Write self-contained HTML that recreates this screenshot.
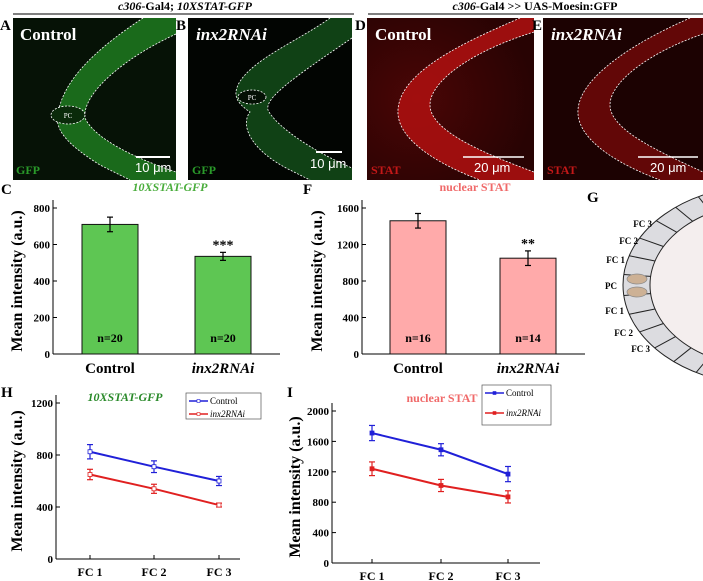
<!DOCTYPE html>
<html><head><meta charset="utf-8">
<style>
html,body{margin:0;padding:0;background:#fff;}
svg{display:block;font-family:"Liberation Serif",serif;}
</style></head>
<body>
<svg id="fig" width="703" height="581" viewBox="0 0 703 581" xmlns="http://www.w3.org/2000/svg">
<defs>
<radialGradient id="gD" cx="0.3" cy="0.5" r="0.7"><stop offset="0" stop-color="#4a0606"/><stop offset="1" stop-color="#280303"/></radialGradient>
<clipPath id="clipG"><rect x="560" y="185" width="143" height="200"/></clipPath>
</defs>
<!-- headers -->
<text x="185" y="10" font-size="12" font-weight="bold" text-anchor="middle"><tspan font-style="italic">c306</tspan>-Gal4; <tspan font-style="italic">10XSTAT-GFP</tspan></text>
<line x1="13" y1="14" x2="354" y2="14" stroke="#000" stroke-width="1"/>
<text x="535" y="10" font-size="12" font-weight="bold" text-anchor="middle"><tspan font-style="italic">c306</tspan>-Gal4 &gt;&gt; UAS-Moesin:GFP</text>
<line x1="368" y1="14" x2="703" y2="14" stroke="#000" stroke-width="1"/>

<!-- Panel A -->
<g>
<rect x="13" y="18" width="163" height="162" fill="#061206"/>
<path d="M143,18 C110,40 70,70 60,105 C52,125 60,140 100,165 L130,180 L176,180 L176,172 C140,160 95,140 85,118 C82,95 120,60 176,34 L176,18 Z" fill="#1f7a20" opacity="0.85"/>
<path d="M143,18 C110,40 70,70 60,105 C52,125 60,140 100,165 L130,180 M176,34 C120,60 82,95 85,118 C95,140 140,160 176,172" fill="none" stroke="#fff" stroke-width="0.8" stroke-dasharray="2,1.5"/>
<ellipse cx="68" cy="115" rx="17" ry="9" fill="#0a2a0a" stroke="#fff" stroke-width="0.8" stroke-dasharray="2,1.5"/>
<text x="68" y="118" fill="#fff" font-size="7" text-anchor="middle">PC</text>
<text x="20" y="40" fill="#fff" font-size="17" font-weight="bold">Control</text>
<text x="16" y="174" fill="#2a9a2a" font-size="12" font-weight="bold">GFP</text>
<line x1="136" y1="157" x2="170" y2="157" stroke="#fff" stroke-width="2"/>
<text x="135" y="172" fill="#fff" font-size="13" font-family="Liberation Sans">10 μm</text>
<text x="0" y="30" font-size="15" font-weight="bold">A</text>
</g>
<!-- Panel B -->
<g>
<rect x="188" y="18" width="164" height="162" fill="#020502"/>
<path d="M330,18 C300,40 250,60 238,85 C232,98 240,105 250,112 C240,125 250,150 290,170 L310,180 L352,180 L352,168 C310,150 275,125 268,110 C265,98 290,80 352,38 L352,18 Z" fill="#14501a" opacity="0.8"/>
<path d="M330,18 C300,40 250,60 238,85 C232,98 240,105 250,112 C240,125 250,150 290,170 L310,180 M352,38 C290,80 265,98 268,110 C275,125 310,150 352,168" fill="none" stroke="#fff" stroke-width="0.8" stroke-dasharray="2,1.5"/>
<ellipse cx="252" cy="97" rx="14" ry="7" fill="#041004" stroke="#fff" stroke-width="0.8" stroke-dasharray="2,1.5"/>
<text x="252" y="100" fill="#fff" font-size="7" text-anchor="middle">PC</text>
<text x="196" y="40" fill="#fff" font-size="17" font-weight="bold" font-style="italic">inx2RNAi</text>
<text x="192" y="174" fill="#2a9a2a" font-size="12" font-weight="bold">GFP</text>
<line x1="316" y1="152" x2="342" y2="152" stroke="#fff" stroke-width="2"/>
<text x="310" y="168" fill="#fff" font-size="13" font-family="Liberation Sans">10 μm</text>
<text x="176" y="30" font-size="15" font-weight="bold">B</text>
</g>
<!-- Panel D -->
<g>
<rect x="367" y="18" width="167" height="162" fill="url(#gD)"/>
<path d="M520,18 C470,40 400,70 398,110 C396,140 440,165 480,180 L534,180 L534,172 C480,152 430,130 430,105 C430,80 475,50 534,32 L534,18 Z" fill="#b01010" opacity="0.85"/>
<path d="M520,18 C470,40 400,70 398,110 C396,140 440,165 480,180 M534,32 C475,50 430,80 430,105 C430,130 480,152 534,172" fill="none" stroke="#fff" stroke-width="0.8" stroke-dasharray="2,1.5"/>
<text x="375" y="40" fill="#fff" font-size="17" font-weight="bold">Control</text>
<text x="371" y="174" fill="#c41818" font-size="12" font-weight="bold">STAT</text>
<line x1="463" y1="157" x2="524" y2="157" stroke="#fff" stroke-width="1.5"/>
<text x="474" y="172" fill="#fff" font-size="13" font-family="Liberation Sans">20 μm</text>
<text x="355" y="30" font-size="15" font-weight="bold">D</text>
</g>
<!-- Panel E -->
<g>
<rect x="543" y="18" width="160" height="162" fill="#1c0202"/>
<path d="M690,18 C640,40 580,75 578,110 C576,140 620,165 660,180 L703,180 L703,172 C660,152 610,130 610,105 C610,80 655,50 703,34 L703,18 Z" fill="#6a0808" opacity="0.9"/>
<path d="M690,18 C640,40 580,75 578,110 C576,140 620,165 660,180 M703,34 C655,50 610,80 610,105 C610,130 660,152 703,172" fill="none" stroke="#fff" stroke-width="0.8" stroke-dasharray="2,1.5"/>
<text x="551" y="40" fill="#fff" font-size="17" font-weight="bold" font-style="italic">inx2RNAi</text>
<text x="547" y="174" fill="#c41818" font-size="12" font-weight="bold">STAT</text>
<line x1="638" y1="157" x2="698" y2="157" stroke="#fff" stroke-width="1.5"/>
<text x="650" y="172" fill="#fff" font-size="13" font-family="Liberation Sans">20 μm</text>
<text x="532" y="30" font-size="15" font-weight="bold">E</text>
</g>

<!-- Panel G diagram -->
<g>
<text x="587" y="202" font-size="15" font-weight="bold">G</text>
<g clip-path="url(#clipG)">
<ellipse cx="765" cy="285" rx="142" ry="100" fill="#dcdce0" stroke="#222" stroke-width="1"/>
<ellipse cx="765" cy="285" rx="115" ry="82" fill="#f4eeee" stroke="#222" stroke-width="1"/>
<g id="gCells" stroke="#222" stroke-width="1"></g>
</g>
<ellipse cx="637" cy="279" rx="10" ry="5" fill="#cdb195" stroke="#888" stroke-width="0.7"/>
<ellipse cx="637" cy="292" rx="10" ry="5" fill="#cdb195" stroke="#888" stroke-width="0.7"/>
<g font-size="9" font-weight="bold" text-anchor="end">
<text x="652" y="227">FC 3</text><text x="638" y="244">FC 2</text><text x="625" y="263">FC 1</text>
<text x="617" y="289">PC</text><text x="624" y="314">FC 1</text><text x="633" y="336">FC 2</text><text x="650" y="352">FC 3</text>
</g>
</g>

<g id="charts"></g>
</svg>
<script>
// Chart C data
const cCategories = ["Control", "inx2RNAi"];
const cValues = [710, 535];
const cErrors = [40, 22];
const cN = ["n=20", "n=20"];
const cTicks = [0, 200, 400, 600, 800];
// Chart F data
const fCategories = ["Control", "inx2RNAi"];
const fValues = [1460, 1050];
const fErrors = [80, 80];
const fN = ["n=16", "n=14"];
const fTicks = [0, 400, 800, 1200, 1600];
// Chart H data
const hCategories = ["FC 1", "FC 2", "FC 3"];
const hControl = [825, 710, 600];
const hControlErr = [55, 45, 35];
const hRNAi = [650, 540, 415];
const hRNAiErr = [40, 35, 15];
const hTicks = [0, 400, 800, 1200];
// Chart I data
const iCategories = ["FC 1", "FC 2", "FC 3"];
const iControl = [1710, 1490, 1170];
const iControlErr = [100, 80, 100];
const iRNAi = [1240, 1020, 870];
const iRNAiErr = [90, 80, 80];
const iTicks = [0, 400, 800, 1200, 1600, 2000];

const NS = "http://www.w3.org/2000/svg";
const root = document.getElementById("charts");
function mk(tag, attrs, parent, text) {
  const e = document.createElementNS(NS, tag);
  for (const k in attrs) e.setAttribute(k, attrs[k]);
  if (text !== undefined) e.textContent = text;
  (parent || root).appendChild(e);
  return e;
}
// diagram cell dividers
const cellAngles = [-140, -152, -163, -174, 174, 163, 152, 141, 130, -129, -118, 119];
const gc = document.getElementById("gCells");
cellAngles.forEach(a => {
  const r = a * Math.PI / 180;
  const c = Math.cos(r), s = Math.sin(r);
  mk("line", {x1: 765 + 142 * c, y1: 285 + 100 * s, x2: 765 + 115 * c, y2: 285 + 82 * s}, gc);
});

function axes(g, x0, x1, y0, yTop, ticks, yScale, ylabelX) {
  mk("line", {x1: x0, y1: yTop - 8, x2: x0, y2: y0, stroke: "#000", "stroke-width": 1}, g);
  mk("line", {x1: x0, y1: y0, x2: x1, y2: y0, stroke: "#000", "stroke-width": 1}, g);
  ticks.forEach(t => {
    const y = yScale(t);
    mk("line", {x1: x0, y1: y, x2: x0 + 4, y2: y, stroke: "#000"}, g);
    const tl = mk("text", {x: x0 - 3, y: y + 4, "font-size": 11, "font-weight": "bold", "text-anchor": "end"}, g, String(t));
    
    
  });
  const yl = mk("text", {x: ylabelX, y: (y0 + yTop) / 2, "font-size": 16, "font-weight": "bold", "text-anchor": "middle", transform: `rotate(-90 ${ylabelX} ${(y0 + yTop) / 2})`}, g, "Mean intensity (a.u.)");
  
  
}
function barChart(name, opt, cats, vals, errs, ns, ticks) {
  const g = mk("g", {});
  
  
  const yScale = v => opt.y0 - (v / opt.max) * (opt.y0 - opt.yTop);
  axes(g, opt.x0, opt.x1, opt.y0, opt.yTop, ticks, yScale, opt.ylx);
  cats.forEach((c, i) => {
    const cx = opt.centers[i];
    const b = mk("rect", {x: cx - 28, y: yScale(vals[i]), width: 56, height: opt.y0 - yScale(vals[i]), fill: opt.color, stroke: "#111", "stroke-width": 1}, g);
    
    
    const yt = yScale(vals[i] + errs[i]), yb = yScale(vals[i] - errs[i]);
    mk("line", {x1: cx, y1: yt, x2: cx, y2: yb, stroke: "#000", "stroke-width": 1.2}, g);
    mk("line", {x1: cx - 3, y1: yt, x2: cx + 3, y2: yt, stroke: "#000", "stroke-width": 1.2}, g);
    mk("line", {x1: cx - 3, y1: yb, x2: cx + 3, y2: yb, stroke: "#000", "stroke-width": 1.2}, g);
    const nt = mk("text", {x: cx, y: opt.y0 - 12, "font-size": 12, "font-weight": "bold", "text-anchor": "middle"}, g, ns[i]);
    
    
    const xl = mk("text", {x: cx, y: opt.y0 + 19, "font-size": 15, "font-weight": "bold", "text-anchor": "middle", "font-style": i === 1 ? "italic" : "normal"}, g, c);
    
    
    if (i === 1) {
      const s = mk("text", {x: cx, y: yt - 3, "font-size": 14, "font-weight": "bold", "text-anchor": "middle"}, g, opt.stars);
      
      
    }
  });
  const t = mk("text", {x: opt.titleX, y: opt.yTop - 17, "font-size": 12, "font-weight": "bold", "font-style": opt.titleItalic ? "italic" : "normal", fill: opt.titleColor, "text-anchor": "middle"}, g, opt.title);
  
  
  const pl = mk("text", {x: opt.labelX, y: opt.yTop - 14, "font-size": 15, "font-weight": "bold"}, g, opt.letter);
  
  
}
function lineChart(name, opt, cats, s1, e1, s2, e2, ticks) {
  const g = mk("g", {});
  
  
  const yScale = v => opt.y0 - (v / opt.max) * (opt.y0 - opt.yTop);
  axes(g, opt.x0, opt.x1, opt.y0, opt.yTop, ticks, yScale, opt.ylx);
  const xs = opt.xs;
  cats.forEach((c, i) => {
    mk("line", {x1: xs[i], y1: opt.y0, x2: xs[i], y2: opt.y0 - 4, stroke: "#000"}, g);
    const xl = mk("text", {x: xs[i], y: opt.y0 + 17, "font-size": 12, "font-weight": "bold", "text-anchor": "middle"}, g, c);
    
    
  });
  [[s1, e1, "#2020d8", "control"], [s2, e2, "#e02020", "inx2rnai"]].forEach(([s, e, col, nm]) => {
    const pts = s.map((v, i) => xs[i] + "," + yScale(v)).join(" ");
    const pl = mk("polyline", {points: pts, fill: "none", stroke: col, "stroke-width": 2}, g);
    
    
    s.forEach((v, i) => {
      const yt = yScale(v + e[i]), yb = yScale(v - e[i]);
      mk("line", {x1: xs[i], y1: yt, x2: xs[i], y2: yb, stroke: col, "stroke-width": 1.2}, g);
      mk("line", {x1: xs[i] - 3, y1: yt, x2: xs[i] + 3, y2: yt, stroke: col, "stroke-width": 1.2}, g);
      mk("line", {x1: xs[i] - 3, y1: yb, x2: xs[i] + 3, y2: yb, stroke: col, "stroke-width": 1.2}, g);
      const p = mk("rect", {x: xs[i] - 2, y: yScale(v) - 2, width: 4, height: 4, fill: opt.open ? "#fff" : col, stroke: col, "stroke-width": 0.8}, g);
      
      
    });
  });
  const L = opt.legend;
  const lg = mk("g", {}, g);
  
  
  mk("rect", {x: L.x, y: L.y, width: L.w, height: L.h, fill: "#fff", stroke: "#555", "stroke-width": 0.7}, lg);
  [["Control", "#2020d8", false], ["inx2RNAi", "#e02020", true]].forEach(([lab, col, it], k) => {
    const yy = L.y + 8 + k * (L.h / 2);
    mk("line", {x1: L.x + 3, y1: yy, x2: L.x + 22, y2: yy, stroke: col, "stroke-width": 1.5}, lg);
    mk("rect", {x: L.x + 11, y: yy - 1.5, width: 3, height: 3, fill: opt.open ? "#fff" : col, stroke: col, "stroke-width": 0.6}, lg);
    const t = mk("text", {x: L.x + 24, y: yy + 3, "font-size": 9, "font-style": it ? "italic" : "normal"}, lg, lab);
    
    
  });
  const t = mk("text", {x: opt.titleX, y: opt.titleY, "font-size": 12, "font-weight": "bold", "font-style": opt.titleItalic ? "italic" : "normal", fill: opt.titleColor, "text-anchor": "middle"}, g, opt.title);
  
  
  const pl = mk("text", {x: opt.labelX, y: opt.labelY, "font-size": 15, "font-weight": "bold"}, g, opt.letter);
  
  
}

barChart("bar-chart-c", {x0: 53, x1: 280, y0: 354, yTop: 208, max: 800, centers: [110, 223], color: "#5ec653", ylx: 22, stars: "***", title: "10XSTAT-GFP", titleColor: "#4aad3c", titleItalic: true, titleX: 170, labelX: 1, letter: "C"}, cCategories, cValues, cErrors, cN, cTicks);
barChart("bar-chart-f", {x0: 362, x1: 585, y0: 354, yTop: 208, max: 1600, centers: [418, 528], color: "#ffaaaa", ylx: 322, stars: "**", title: "nuclear STAT", titleColor: "#f06a6a", titleItalic: false, titleX: 475, labelX: 303, letter: "F"}, fCategories, fValues, fErrors, fN, fTicks);
lineChart("line-chart-h", {x0: 56, x1: 240, y0: 559, yTop: 403, max: 1200, xs: [90, 154, 219], ylx: 22, open: true, legend: {x: 186, y: 393, w: 75, h: 26}, title: "10XSTAT-GFP", titleColor: "#2a8a2a", titleItalic: true, titleX: 125, titleY: 401, labelX: 1, labelY: 397, letter: "H"}, hCategories, hControl, hControlErr, hRNAi, hRNAiErr, hTicks);
lineChart("line-chart-i", {x0: 332, x1: 540, y0: 563, yTop: 411, max: 2000, xs: [372, 441, 508], ylx: 300, open: false, legend: {x: 482, y: 385, w: 69, h: 40}, title: "nuclear STAT", titleColor: "#f06a6a", titleItalic: false, titleX: 442, titleY: 402, labelX: 287, labelY: 397, letter: "I"}, iCategories, iControl, iControlErr, iRNAi, iRNAiErr, iTicks);
</script>
</body></html>
